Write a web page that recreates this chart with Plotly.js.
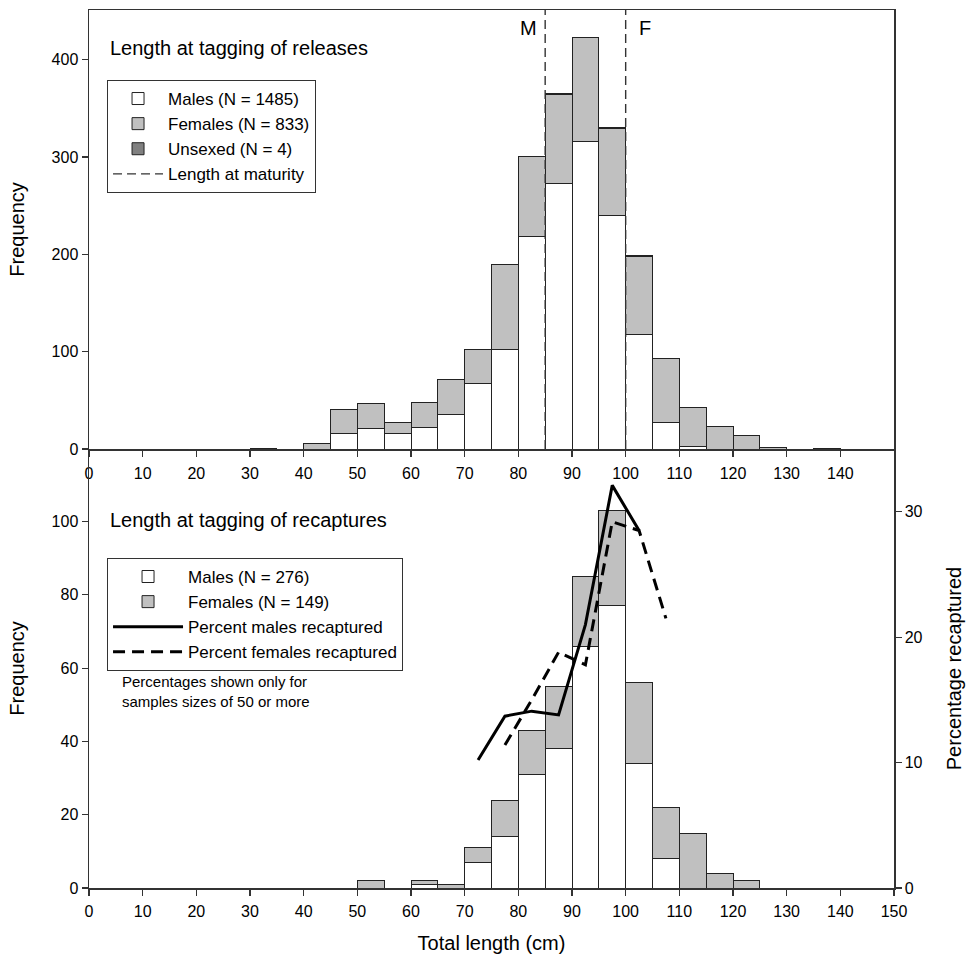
<!DOCTYPE html>
<html><head><meta charset="utf-8">
<script src="https://cdn.plot.ly/plotly-3.0.1.min.js"></script>
<style>html,body{margin:0;padding:0;background:#fff}</style>
</head><body><div id="chart" style="width:968px;height:965px"></div>
<script>
// ---- Releases (top panel), 5 cm bins, bin mid-points ----
const relBins     = [32.5,37.5,42.5,47.5,52.5,57.5,62.5,67.5,72.5,77.5,82.5,87.5,92.5,97.5,102.5,107.5,112.5,117.5,122.5,127.5,132.5,137.5];
const relMales    = [0,0,0,16,21,16,22,35,67,102,218,273,316,240,118,27,3,0,0,0,0,0];
const relFemales  = [1,0,6,25,26,11,26,36,35,88,82,91,107,89,80,66,40,23,14,2,0,1];
const relUnsexed  = [0,0,0,0,0,0,0,0,0,0,1,1,0,1,1,0,0,0,0,0,0,0];
const maturityLen = [85,100];
const maturityLab = ['M','F'];
const topXTicks   = [0,10,20,30,40,50,60,70,80,90,100,110,120,130,140];

// ---- Recaptures (bottom panel) ----
const recBins     = [52.5,57.5,62.5,67.5,72.5,77.5,82.5,87.5,92.5,97.5,102.5,107.5,112.5,117.5,122.5];
const recMales    = [0,0,1,0,7,14,31,38,66,77,34,8,0,0,0];
const recFemales  = [2,0,1,1,4,10,12,17,19,26,22,14,15,4,2];
const pctMaleX    = [72.5,77.5,82.5,87.5,92.5,97.5,102.5];
const pctMale     = [10.2,13.7,14.1,13.8,21.0,32.1,28.5];
const pctFemaleX  = [77.5,82.5,87.5,92.5,97.5,102.5,107.5];
const pctFemale   = [11.4,15.0,18.8,17.8,29.2,28.5,21.5];

const FONT = 'Liberation Sans, Arial, Helvetica, sans-serif';
const TOP_Y_MAX = 451;
const outline = {color:'#222', width:1};
// empty bins are not drawn (avoids flat outlines on the axis)
const nz = arr => arr.map(v => (v === 0 ? null : v));

const traces = [
  {type:'bar', x:relBins, y:nz(relMales), width:5, name:'Males (N = 1485)',
   marker:{color:'#ffffff', line:outline}, xaxis:'x', yaxis:'y', legend:'legend'},
  {type:'bar', x:relBins, y:nz(relFemales), width:5, name:'Females (N = 833)',
   marker:{color:'#c0c0c0', line:outline}, xaxis:'x', yaxis:'y', legend:'legend'},
  {type:'bar', x:relBins, y:nz(relUnsexed), width:5, name:'Unsexed (N = 4)',
   marker:{color:'#808080', line:outline}, xaxis:'x', yaxis:'y', legend:'legend'},
  {type:'scatter', mode:'lines', name:'Length at maturity',
   x:[maturityLen[0],maturityLen[0],null,maturityLen[1],maturityLen[1]],
   y:[0,TOP_Y_MAX,null,0,TOP_Y_MAX],
   line:{color:'#333', width:1.4, dash:'9px,5px'}, xaxis:'x', yaxis:'y', legend:'legend'},

  {type:'bar', x:recBins, y:nz(recMales), width:5, name:'Males (N = 276)',
   marker:{color:'#ffffff', line:outline}, xaxis:'x2', yaxis:'y2', legend:'legend2'},
  {type:'bar', x:recBins, y:nz(recFemales), width:5, name:'Females (N = 149)',
   marker:{color:'#c0c0c0', line:outline}, xaxis:'x2', yaxis:'y2', legend:'legend2'},
  {type:'scatter', mode:'lines', x:pctMaleX, y:pctMale, name:'Percent males recaptured',
   line:{color:'#000', width:3}, xaxis:'x2', yaxis:'y3', legend:'legend2'},
  {type:'scatter', mode:'lines', x:pctFemaleX, y:pctFemale, name:'Percent females recaptured',
   line:{color:'#000', width:3, dash:'12px,7px'}, xaxis:'x2', yaxis:'y3', legend:'legend2'}
];

const axisBase = {showgrid:false, zeroline:false, showline:true, linecolor:'#333', linewidth:1.5,
  ticks:'outside', ticklen:6, tickcolor:'#333', tickwidth:1.2,
  tickfont:{family:FONT, size:16, color:'#000'}};

const layout = {
  width:968, height:965,
  margin:{l:89, r:74, t:10, b:77},
  paper_bgcolor:'#fff', plot_bgcolor:'#fff',
  font:{family:FONT, color:'#000'},
  barmode:'stack', bargap:0,
  xaxis: Object.assign({}, axisBase, {anchor:'y', domain:[0,1], range:[0,150],
    tickvals:topXTicks, mirror:true, ticklabelstandoff:3}),
  yaxis: Object.assign({}, axisBase, {anchor:'x', domain:[0.5,1], range:[0,TOP_Y_MAX],
    tickvals:[0,100,200,300,400], mirror:true,
    title:{text:'Frequency', font:{family:FONT, size:20}, standoff:21}}),
  xaxis2: Object.assign({}, axisBase, {anchor:'y2', domain:[0,1], range:[0,150], dtick:10, tick0:0,
    ticklabelstandoff:2,
    title:{text:'Total length (cm)', font:{family:FONT, size:20}, standoff:17}}),
  yaxis2: Object.assign({}, axisBase, {anchor:'x2', domain:[0,0.5], range:[0,119.8], dtick:20, tick0:0,
    title:{text:'Frequency', font:{family:FONT, size:20}, standoff:21}}),
  yaxis3: Object.assign({}, axisBase, {anchor:'x2', overlaying:'y2', side:'right', range:[0,35], dtick:10, tick0:0,
    title:{text:'Percentage recaptured', font:{family:FONT, size:20}, standoff:25}}),
  legend:{x:0.0224, y:0.9203, xanchor:'left', yanchor:'top', traceorder:'normal',
    bgcolor:'#fff', bordercolor:'#333', borderwidth:1, itemwidth:50,
    font:{family:FONT, size:17}, tracegroupgap:0},
  legend2:{x:0.0224, y:0.3759, xanchor:'left', yanchor:'top', traceorder:'normal',
    bgcolor:'#fff', bordercolor:'#333', borderwidth:1, itemwidth:70,
    font:{family:FONT, size:17}, tracegroupgap:0},
  annotations:[
    {text:'Length at tagging of releases', xref:'paper', yref:'paper', x:0.0236, y:0.9567,
     xanchor:'left', yanchor:'middle', showarrow:false, font:{family:FONT, size:20}},
    {text:'Length at tagging of recaptures', xref:'paper', yref:'paper', x:0.0236, y:0.419,
     xanchor:'left', yanchor:'middle', showarrow:false, font:{family:FONT, size:20}},
    {text:maturityLab[0], xref:'x', yref:'paper', x:maturityLen[0], y:0.9795, xanchor:'right', yanchor:'middle',
     xshift:-6, showarrow:false, font:{family:FONT, size:20}},
    {text:maturityLab[1], xref:'x', yref:'paper', x:maturityLen[1], y:0.9795, xanchor:'left', yanchor:'middle',
     xshift:11, showarrow:false, font:{family:FONT, size:20}},
    {text:'Percentages shown only for<br>samples sizes of 50 or more', xref:'paper', yref:'paper',
     x:0.0385, y:0.224, xanchor:'left', yanchor:'middle', align:'left', showarrow:false,
     font:{family:FONT, size:15}}
  ]
};

Plotly.newPlot('chart', traces, layout, {displayModeBar:false, staticPlot:true});
</script>
</body></html>
